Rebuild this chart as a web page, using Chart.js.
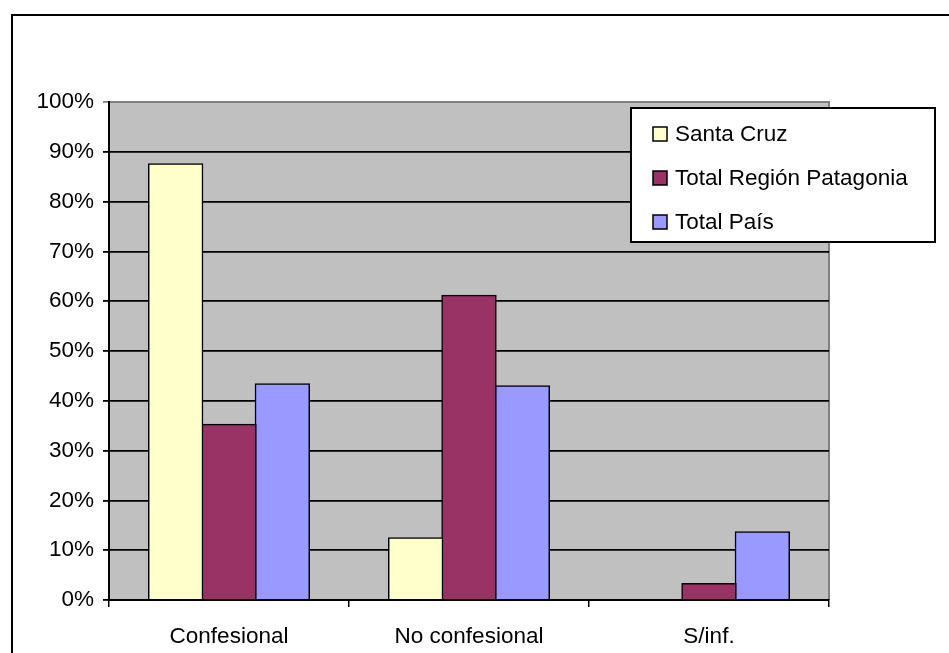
<!DOCTYPE html>
<html>
<head>
<meta charset="utf-8">
<script src="https://cdn.jsdelivr.net/npm/chart.js@4/dist/chart.umd.min.js"></script>
<style>
  body { margin: 0; background: #fff; }
  #wrap { position: relative; width: 949px; height: 653px; }
</style>
</head>
<body>
<div id="wrap"><canvas id="grafico" width="949" height="653"></canvas></div>
<script>
// datos
const categorias = ["Confesional", "No confesional", "S/inf."];
const santaCruz = [87.5, 12.4, 0];
const regionPatagonia = [35.2, 61.1, 3.2];
const totalPais = [43.3, 42.9, 13.6];
const etiquetasY = ["0%", "10%", "20%", "30%", "40%", "50%", "60%", "70%", "80%", "90%", "100%"];

const fuente = { family: "'Liberation Sans', Arial, sans-serif", size: 22.5 };

// fondo gris, marco exterior y leyenda
const fondo = {
    id: "fondo",
    beforeDraw(chart) {
        const c = chart.ctx, a = chart.chartArea;
        c.save();
        c.fillStyle = "#fff";
        c.fillRect(0, 0, chart.width, chart.height);
        c.strokeStyle = "#000";
        c.lineWidth = 2;
        c.strokeRect(12, 15, 960, 700);
        c.fillStyle = "#c0c0c0";
        c.fillRect(a.left, a.top, a.right - a.left, a.bottom - a.top);
        c.strokeStyle = "#808080";
        c.lineWidth = 2;
        c.beginPath();
        c.moveTo(a.left, a.top);
        c.lineTo(a.right, a.top);
        c.lineTo(a.right, a.bottom);
        c.stroke();
        c.restore();
    },
    afterDraw(chart) {
        const c = chart.ctx;
        const x = 631, y = 108, w = 304, h = 134;
        c.save();
        c.fillStyle = "#fff";
        c.fillRect(x, y, w, h);
        c.strokeStyle = "#000";
        c.lineWidth = 2;
        c.strokeRect(x, y, w, h);
        c.font = fuente.size + "px " + fuente.family;
        c.textBaseline = "middle";
        chart.data.datasets.forEach(function (ds, i) {
            const cy = y + 26 + i * 44;
            c.fillStyle = ds.backgroundColor;
            c.fillRect(x + 22, cy - 7, 14, 14);
            c.lineWidth = 1.5;
            c.strokeRect(x + 22, cy - 7, 14, 14);
            c.fillStyle = "#000";
            c.fillText(ds.label, x + 44, cy + 1);
        });
        c.restore();
    }
};

const ctx = document.getElementById("grafico").getContext("2d");

const grafico = new Chart(ctx, {
    type: "bar",
    data: {
        labels: categorias,
        datasets: [
            { label: "Santa Cruz", data: santaCruz, backgroundColor: "#ffffcc", borderColor: "#000", borderWidth: 1.5 },
            { label: "Total Región Patagonia", data: regionPatagonia, backgroundColor: "#993366", borderColor: "#000", borderWidth: 1.5 },
            { label: "Total País", data: totalPais, backgroundColor: "#9999ff", borderColor: "#000", borderWidth: 1.5 }
        ]
    },
    options: {
        responsive: false,
        animation: false,
        layout: { padding: { top: 102, right: 120, left: 0, bottom: 0 } },
        plugins: { legend: { display: false }, tooltip: { enabled: false } },
        datasets: { bar: { categoryPercentage: 0.667, barPercentage: 1, inflateAmount: 1 } },
        scales: {
            x: {
                grid: { offset: true, drawOnChartArea: false, drawTicks: true, tickLength: 7, color: "#000", lineWidth: 1.5 },
                border: { color: "#000", width: 2 },
                ticks: { color: "#000", font: fuente, padding: 16, maxRotation: 0 },
                afterFit(scale) { scale.height = 53; }
            },
            y: {
                min: 0,
                max: 100,
                grid: {
                    color: function (c) { return c.tick && c.tick.value === 100 ? "#808080" : "#000"; },
                    lineWidth: 1.8,
                    tickLength: 6,
                    z: 0
                },
                border: { color: "#000", width: 2 },
                ticks: {
                    stepSize: 10,
                    color: "#000",
                    font: fuente,
                    padding: 9,
                    callback: function (v) { return etiquetasY[Math.round(v / 10)]; }
                },
                afterFit(scale) { scale.width = 109; }
            }
        }
    },
    plugins: [fondo]
});
</script>
</body>
</html>
